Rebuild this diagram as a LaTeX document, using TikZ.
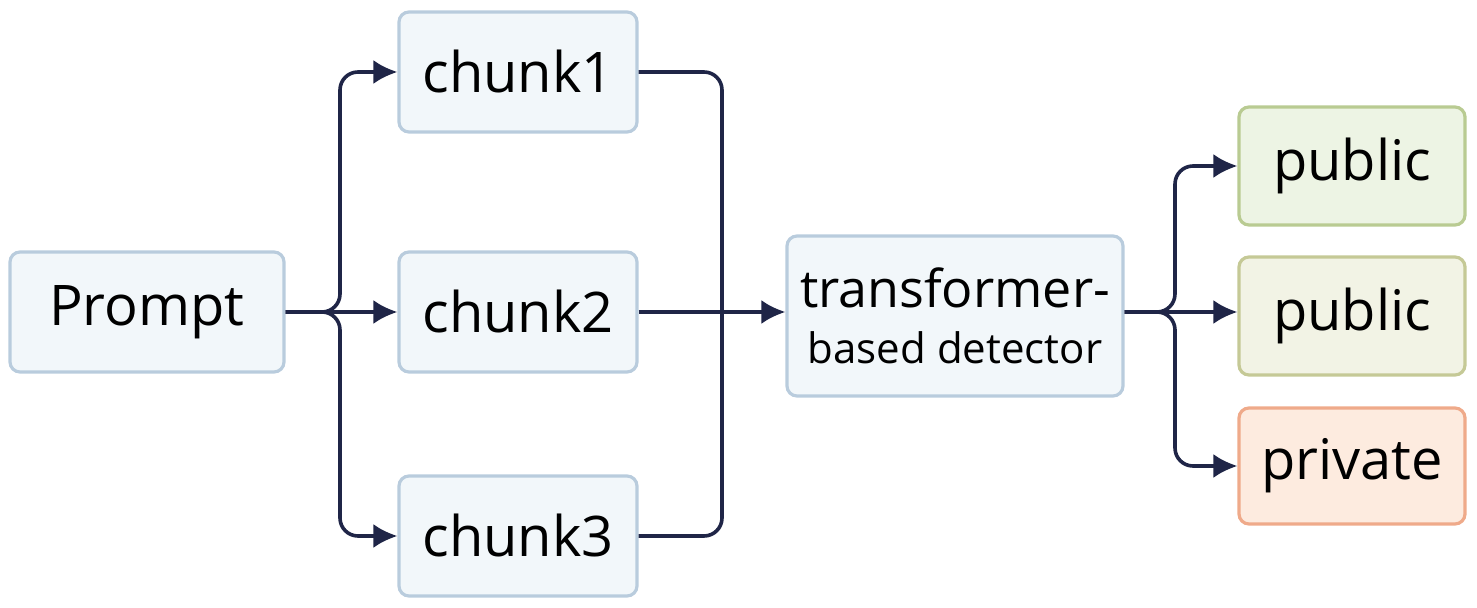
\documentclass[tikz,border=0pt]{standalone}
\usepackage{fontspec}
\setmainfont{Open Sans}
\usetikzlibrary{arrows.meta,calc}
\definecolor{boxfill}{HTML}{F2F7FA}
\definecolor{boxline}{HTML}{B9CCDD}
\definecolor{pubAfill}{HTML}{EDF4E4}
\definecolor{pubAline}{HTML}{B9CB92}
\definecolor{pubBfill}{HTML}{F2F3E5}
\definecolor{pubBline}{HTML}{C5C996}
\definecolor{privfill}{HTML}{FDEBDF}
\definecolor{privline}{HTML}{EFAA8A}
\definecolor{wire}{HTML}{1F2547}
\begin{document}
\begin{tikzpicture}[
				x=0.5pt, y=-0.5pt,
				every node/.style={
						font=\fontsize{28}{33}\selectfont,
					},
				box/.style={draw=boxline, fill=boxfill, line width=1.6pt, rounded corners=5pt,
						minimum width=119pt, minimum height=60pt, inner sep=0pt},
				wires/.style={draw=wire, line width=1.8pt, rounded corners=9pt},
				arr/.style={wires, -{Latex[length=12pt,width=12pt]}},]
			\useasboundingbox (0,0) rectangle (1477,608);
			\node[box, minimum width=137pt] (prompt) at (147,312) {Prompt};
			\foreach \n/\y in {1/72,2/312,3/536} {
					\node[box] (chunk\n) at (518,\y) {chunk\n};
				}
			\node[box, minimum width=168pt, minimum height=80pt, align=center] (detector) at (955,316)
				{{\fontsize{26}{30}\selectfont transformer-}\\[-5pt]{\fontsize{21}{25}\selectfont based detector}};
			\node[box, draw=pubAline, fill=pubAfill, minimum width=113pt, minimum height=59pt] (pubA) at (1352,166) {public};
			\node[box, draw=pubBline, fill=pubBfill, minimum width=113pt, minimum height=59pt] (pubB) at (1352,316) {public};
			\node[box, draw=privline, fill=privfill, minimum width=113pt, minimum height=58pt] (priv) at (1352,466) {private};
			% split and merge points
			\coordinate (split) at (340,312);
			\coordinate (merge) at (722,312);
			\coordinate (fork) at (1175,312);
			\draw[arr] (prompt.east) -- (split) |- (chunk1.west);
			\draw[arr] (prompt.east) -- (split) |- (chunk3.west);
			\draw[arr] (prompt.east) -- (chunk2.west);
			\draw[wires] (chunk1.east) -| (merge);
			\draw[wires] (chunk3.east) -| (merge);
			\draw[arr] (chunk2.east) -- (chunk2.east -| detector.west);
			\draw[arr] (chunk2.east -| detector.east) -- (fork) |- (pubA.west);
			\draw[arr] (chunk2.east -| detector.east) -- (fork) |- (priv.west);
			\draw[arr] (chunk2.east -| detector.east) -- (chunk2.east -| pubB.west);
		\end{tikzpicture}
\end{document}
